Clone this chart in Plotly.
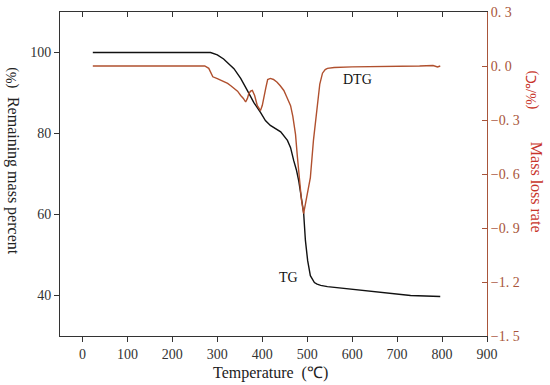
import plotly.graph_objects as go

# Thermogravimetric data
tg_temp = [23, 100, 200, 285, 300, 314, 337, 352, 367, 381, 396, 407, 418, 430, 441,
           456, 463, 470, 476, 481, 487, 492, 496, 501, 507, 512, 516, 522, 530, 545,
           563, 600, 626, 680, 730, 796]
tg_mass = [100, 100, 100, 100, 99.4, 98.4, 96.0, 93.6, 90.6, 87.7, 85.2, 83.2, 82.0, 81.2, 80.4,
           78.3, 76.5, 73.3, 71.0, 68.4, 64.5, 60.5, 53.6, 48.6, 44.9, 43.8, 43.2, 42.8, 42.5, 42.2,
           42.0, 41.6, 41.2, 40.6, 40.0, 39.75]

dtg_temp = [23, 100, 200, 272, 281, 290, 300, 308, 315, 323, 330, 337, 345, 352, 358,
            363, 367, 370, 374, 378, 383, 389, 396, 400, 403, 408, 412, 418, 425, 433,
            440, 448, 455, 463, 468, 474, 478, 482, 487, 492, 496, 502, 507, 514, 522,
            528, 534, 540, 545, 560, 600, 650, 700, 750, 780, 790, 796]
dtg_rate = [0, 0, 0, 0, -0.013, -0.06, -0.07, -0.08, -0.085, -0.097, -0.11, -0.125, -0.14, -0.164, -0.18,
            -0.20, -0.18, -0.153, -0.14, -0.136, -0.164, -0.22, -0.248, -0.22, -0.175, -0.12, -0.075, -0.069, -0.075, -0.09,
            -0.11, -0.136, -0.175, -0.22, -0.28, -0.38, -0.50, -0.62, -0.74, -0.82, -0.77, -0.70, -0.62, -0.41, -0.23,
            -0.10, -0.04, -0.02, -0.013, -0.008, -0.005, -0.004, -0.002, 0.0, 0.003, -0.005, 0.0]

x_ticks = [0, 100, 200, 300, 400, 500, 600, 700, 800, 900]
left_ticks = [40, 60, 80, 100]
right_ticks = [0.3, 0.0, -0.3, -0.6, -0.9, -1.2, -1.5]
right_tick_text = ["0. 3", "0. 0", "\u22120. 3", "\u22120. 6", "\u22120. 9", "\u22121. 2", "\u22121. 5"]

SERIF = "Liberation Serif"
BROWN = "#A8553A"
LINE_BROWN = "#B0502E"
RED = "#C8352B"

fig = go.Figure()
fig.add_trace(go.Scatter(x=tg_temp, y=tg_mass, mode="lines",
                         line=dict(color="#111111", width=1.4),
                         xaxis="x", yaxis="y", showlegend=False, hoverinfo="skip"))
fig.add_trace(go.Scatter(x=dtg_temp, y=dtg_rate, mode="lines",
                         line=dict(color=LINE_BROWN, width=1.4),
                         xaxis="x2", yaxis="y2", showlegend=False, hoverinfo="skip"))

fig.update_layout(
    width=550, height=385,
    margin=dict(l=60, r=63, t=12, b=49, autoexpand=False),
    paper_bgcolor="white", plot_bgcolor="white",
    font=dict(family=SERIF, size=14, color="#333333"),
    xaxis=dict(range=[-50, 900], tickvals=x_ticks, ticks="outside", ticklen=5,
               tickcolor="#333333", showline=True, linecolor="#333333", linewidth=1,
               mirror=True, showgrid=False, zeroline=False, automargin=False,
               tickfont=dict(family=SERIF, size=14, color="#333333")),
    xaxis2=dict(range=[-50, 900], tickvals=x_ticks, overlaying="x", side="top",
                anchor="y2", ticks="inside", ticklen=5, tickcolor="#333333",
                showticklabels=False, showline=False, showgrid=False, zeroline=False),
    yaxis=dict(range=[30, 110], tickvals=left_ticks, ticks="outside", ticklen=5,
               tickcolor="#333333", showline=True, linecolor="#333333", linewidth=1,
               showgrid=False, zeroline=False, automargin=False,
               tickfont=dict(family=SERIF, size=14, color="#333333")),
    yaxis2=dict(range=[-1.5, 0.3], tickvals=right_ticks, ticktext=right_tick_text,
                overlaying="y", side="right", anchor="x2", ticks="inside", ticklen=5,
                tickcolor=BROWN, showline=True, linecolor=BROWN, linewidth=1,
                showgrid=False, zeroline=False, automargin=False,
                tickfont=dict(family=SERIF, size=14, color=BROWN)),
)

C = dict(xanchor="center", yanchor="middle", showarrow=False)
annotations = [
    dict(text="DTG", x=612, y=93.3, xref="x", yref="y",
         font=dict(family=SERIF, size=14, color="#111111"), **C),
    dict(text="TG", x=458, y=44.4, xref="x", yref="y",
         font=dict(family=SERIF, size=14, color="#111111"), **C),
    dict(text="Temperature  (\u2103)", x=0.492, y=-0.114, xref="paper", yref="paper",
         font=dict(family=SERIF, size=16, color="#222222"), **C),
    dict(text="Remaining mass percent", x=-0.110, y=0.494, xref="paper", yref="paper",
         textangle=90, font=dict(family=SERIF, size=16, color="#222222"), **C),
    dict(text="(%)", x=-0.112, y=0.796, xref="paper", yref="paper",
         textangle=-90, font=dict(family=SERIF, size=14, color="#222222"), **C),
    dict(text="(%/\u2103)", x=1.106, y=0.759, xref="paper", yref="paper",
         textangle=-90, font=dict(family=SERIF, size=14, color=RED), **C),
    dict(text="Mass loss rate", x=1.115, y=0.46, xref="paper", yref="paper",
         textangle=90, font=dict(family=SERIF, size=16, color=RED), **C),
]
fig.update_layout(annotations=annotations)

# remove the default page margin so the figure fills the 550x385 window exactly
fig.write_html("out.html", config={"displayModeBar": False},
               post_script="document.body.style.margin='0';")
